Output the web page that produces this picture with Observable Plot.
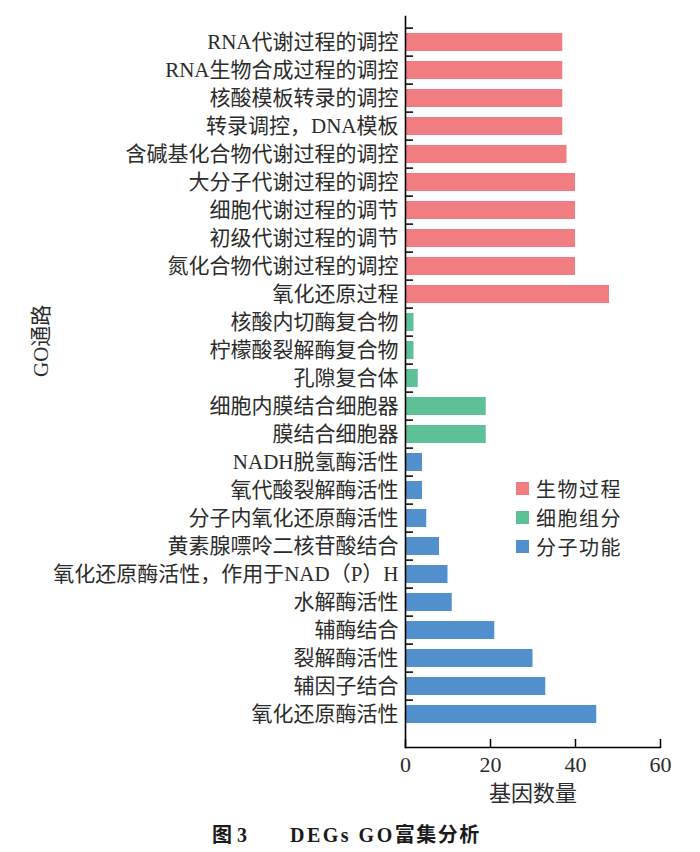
<!DOCTYPE html>
<html><head><meta charset="utf-8">
<script src="https://cdn.jsdelivr.net/npm/d3@7"></script>
<script src="https://cdn.jsdelivr.net/npm/@observablehq/plot@0.6"></script>
<style>
body{margin:0;background:#fff;}
#wrap{position:relative;width:700px;height:852px;overflow:hidden;}
#legend{position:absolute;left:516px;top:474px;font-family:"Noto Sans CJK SC",sans-serif;font-size:20px;color:#2b2b2b;letter-spacing:1.5px;}
#legend .row{display:flex;align-items:center;height:29px;}
#legend .sw{width:13px;height:13px;margin-right:7px;display:inline-block;}
#legend .txt{display:inline-block;height:29px;line-height:29px;}
#caption{position:absolute;left:0;top:815px;width:700px;height:40px;line-height:40px;font-family:"Liberation Serif","Noto Sans CJK SC",serif;font-weight:bold;font-size:20px;color:#1a1a1a;white-space:pre;}
#caption .a{position:absolute;left:212px;}
#caption .b{position:absolute;left:290px;}
#caption .lat{letter-spacing:2.5px;}
#caption .cjk{letter-spacing:1.5px;}
</style>
</head><body>
<div id="wrap"><div id="chart"></div><div id="legend"></div><div id="caption"><span class="a"></span><span class="b"><span class="lat"></span><span class="cjk"></span></span></div></div>
<script>
const categories = [
  "RNA代谢过程的调控","RNA生物合成过程的调控","核酸模板转录的调控","转录调控，DNA模板",
  "含碱基化合物代谢过程的调控","大分子代谢过程的调控","细胞代谢过程的调节","初级代谢过程的调节",
  "氮化合物代谢过程的调控","氧化还原过程",
  "核酸内切酶复合物","柠檬酸裂解酶复合物","孔隙复合体","细胞内膜结合细胞器","膜结合细胞器",
  "NADH脱氢酶活性","氧代酸裂解酶活性","分子内氧化还原酶活性","黄素腺嘌呤二核苷酸结合",
  "氧化还原酶活性，作用于NAD（P）H","水解酶活性","辅酶结合","裂解酶活性","辅因子结合","氧化还原酶活性"
];
const counts = [37,37,37,37,38,40,40,40,40,48, 2,2,3,19,19, 4,4,5,8,10,11,21,30,33,45];
const groupNames = ["生物过程","细胞组分","分子功能"];
const groupSizes = [10,5,10];
const groupColors = ["#F17C81","#5EC097","#5290CD"];
const xTicks = [0,20,40,60];
const xLabel = "基因数量";
const yLabel = "GO通路";
const captionFig = "图 3";
const captionLatin = "DEGs GO";
const captionCjk = "富集分析";

const groupOf = groupSizes.flatMap((n,i)=>Array(n).fill(groupNames[i]));
const data = categories.map((c,i)=>({name:c, count:counts[i], group:groupOf[i]}));

const W = 700, H = 812, mt = 16, mb = 65, ml = 405, mr = 40;
const bandStep = 28.75;
const yStart = 18.5;
const yRange = [yStart, yStart + bandStep*categories.length];
const plotH = H - mt - mb, plotW = W - ml - mr;
const font = '"Liberation Serif","Noto Sans CJK SC",serif';

const chart = Plot.plot({
  width: W, height: H, marginTop: mt, marginBottom: mb, marginLeft: ml, marginRight: mr,
  style: {fontFamily: font, fontSize: "21px", color: "#2b2b2b", background: "white"},
  x: {domain: [0, 60], ticks: xTicks},
  y: {domain: categories, range: yRange, paddingInner: 0.36, paddingOuter: 0.18},
  color: {domain: groupNames, range: groupColors},
  marks: [
    Plot.barX(data, {x: "count", y: "name", fill: "group"}),
    Plot.axisY({tickSize: 0, tickPadding: 7, label: null, fontSize: 21, fill: "#2b2b2b"}),
    Plot.axisX({ticks: xTicks, tickSize: 0, tickPadding: 9, label: null, fontSize: 22, fill: "#2b2b2b"}),
    Plot.tickY(categories, {y: d => d, dy: -bandStep/2, insetRight: plotW - 8, stroke: "black", strokeWidth: 1.5}),
    Plot.ruleX(xTicks, {x: d => d, insetTop: plotH - 8, stroke: "black", strokeWidth: 1.5}),
    Plot.frame({anchor: "left", stroke: "black", strokeWidth: 1.6}),
    Plot.frame({anchor: "bottom", stroke: "black", strokeWidth: 1.6}),
    Plot.text([xLabel], {frameAnchor: "bottom", dy: 53, fontSize: 22, fill: "#2b2b2b", fontFamily: '"Noto Sans CJK SC",sans-serif'}),
    Plot.text([yLabel], {frameAnchor: "left", dx: -364, dy: -5, rotate: -90, fontSize: 21, fill: "#2b2b2b"})
  ]
});
document.getElementById("chart").appendChild(chart);

const legend = document.getElementById("legend");
groupNames.forEach((g,i)=>{
  const row = document.createElement("div"); row.className = "row";
  const sw = document.createElement("span"); sw.className = "sw"; sw.style.background = groupColors[i];
  const t = document.createElement("span"); t.className = "txt"; t.textContent = g;
  row.appendChild(sw); row.appendChild(t); legend.appendChild(row);
});
document.querySelector("#caption .a").textContent = captionFig;
document.querySelector("#caption .lat").textContent = captionLatin;
document.querySelector("#caption .cjk").textContent = captionCjk;
</script>
</body></html>
